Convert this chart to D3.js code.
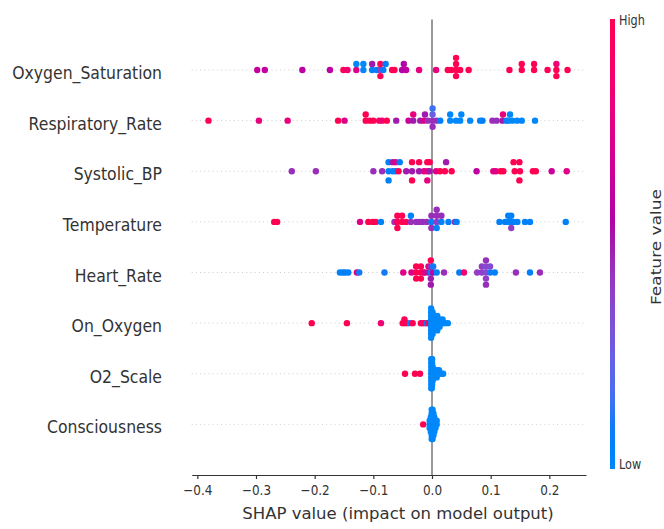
<!DOCTYPE html>
<html>
<head>
<meta charset="utf-8">
<script src="https://cdn.jsdelivr.net/npm/d3@7"></script>
<style>
  body { margin: 0; background: #fff; }
  text { font-family: 'DejaVu Sans', sans-serif; }
</style>
</head>
<body>
<svg id="chart" width="664" height="529"></svg>
<script>
// feature order, top to bottom
const featureNames = ['Oxygen_Saturation', 'Respiratory_Rate', 'Systolic_BP', 'Temperature',
  'Heart_Rate', 'On_Oxygen', 'O2_Scale', 'Consciousness']

// SHAP values and normalised feature values (0 = low, 1 = high) per feature
const oxygenSaturationShap = [-0.298, -0.285, -0.221, -0.174, -0.151, -0.144, -0.129, -0.129, -0.117, -0.117,
  -0.102, -0.102, -0.094, -0.088, -0.088, -0.088, -0.083, -0.079, -0.068, -0.064, -0.051, -0.048, -0.044,
  -0.022, 0.007, 0.027, 0.033, 0.041, 0.041, 0.041, 0.041, 0.048, 0.0625, 0.132, 0.153, 0.153, 0.174, 0.174,
  0.197, 0.212, 0.212, 0.212, 0.231]
const oxygenSaturationLevel = [0.62, 0.62, 0.6, 0.6, 1, 0.85, 0.75, 0, 0, 0,
  0.05, 0.5, 0.05, 0.4, 1, 1, 0.05, 0.05, 1, 1, 0.55, 0.55, 0.6,
  0.8, 0.8, 1, 1, 1, 1, 1, 1, 1, 1, 1, 1, 1, 1, 1,
  1, 1, 0.85, 1, 1]

const respiratoryRateShap = [-0.381, -0.295, -0.246, -0.160, -0.149, -0.113, -0.113, -0.106, -0.100, -0.090,
  -0.085, -0.077, -0.061, -0.040, -0.032, -0.032, -0.020, -0.014, -0.012, -0.007, 0.001, 0.001, 0.001, 0.001,
  0.008, 0.014, 0.031, 0.031, 0.041, 0.048, 0.050, 0.065, 0.082, 0.086, 0.103, 0.110, 0.120, 0.121, 0.127,
  0.130, 0.133, 0.137, 0.145, 0.153, 0.1756]
const respiratoryRateLevel = [1, 0.8, 0.8, 1, 0.75, 1, 1, 1, 1, 0.95,
  0.85, 1, 0.5, 0.65, 0.5, 0.8, 0.5, 0.75, 0.5, 0.45, 0.45, 0.25, 0.45, 0.15,
  0.45, 0.05, 0, 0, 0, 0, 0, 0, 0.05, 0.05, 0.45, 0.45, 0.5, 0.8, 0.1,
  0, 0, 0, 0, 0, 0]

const systolicBpShap = [-0.239, -0.198, -0.100, -0.085, -0.074, -0.074, -0.074, -0.067, -0.067, -0.062,
  -0.062, -0.057, -0.055, -0.044, -0.034, -0.034, -0.034, -0.022, -0.022, -0.0136, -0.008, -0.008, -0.008,
  -0.004, -0.004, 0.007, 0.0136, 0.022, 0.024, 0.0335, 0.076, 0.1045, 0.109, 0.117, 0.1216, 0.141, 0.139,
  0.150, 0.149, 0.149, 0.172, 0.177, 0.204, 0.2296]
const systolicBpLevel = [0.45, 0.45, 0.45, 0.45, 0.05, 0.05, 0.05, 0.05, 0.5, 0.05,
  0.75, 1, 0.05, 0.5, 0.5, 1, 1, 0.5, 1, 0.75, 0.8, 1, 0.8,
  0.5, 1, 0.75, 1, 1, 0.5, 1, 0.6, 0.75, 0.75, 1, 1, 1, 1,
  1, 1, 1, 1, 1, 0.65, 0.75]

const temperatureShap = [-0.269, -0.264, -0.1227, -0.1085, -0.101, -0.096, -0.087, -0.064, -0.059, -0.059,
  -0.059, -0.051, -0.051, -0.044, -0.036, -0.036, -0.027, -0.0216, -0.016, -0.009, -0.001, -0.001, -0.001,
  0.008, 0.008, 0.008, 0.008, 0.016, 0.016, 0.028, 0.039, 0.042, 0.115, 0.1245, 0.130, 0.130, 0.135, 0.135,
  0.135, 0.139, 0.1455, 0.1585, 0.167, 0.228]
const temperatureLevel = [1, 1, 0.75, 1, 1, 1, 0.05, 0.45, 1, 1,
  1, 1, 1, 1, 0.45, 0.05, 0.45, 0.45, 0.45, 0.45, 0.05, 0.45, 0.45,
  0.4, 0.45, 0.05, 0.45, 0.05, 0.45, 0.05, 0.45, 0.05, 0.05, 0.05, 0.05, 0.05, 0.05, 0.05,
  0.4, 0.05, 0.05, 0.05, 0.05, 0.05]

const heartRateShap = [-0.157, -0.152, -0.148, -0.1427, -0.128, -0.124, -0.081, -0.049, -0.035, -0.027,
  -0.027, -0.027, -0.019, -0.019, -0.019, -0.015, -0.012, -0.006, -0.006, -0.002, -0.002, -0.002, -0.002,
  -0.002, 0.002, 0.002, 0.008, 0.0205, 0.0466, 0.0545, 0.077, 0.085, 0.085, 0.092, 0.092, 0.092, 0.092,
  0.092, 0.099, 0.099, 0.107, 0.143, 0.167, 0.184]
const heartRateLevel = [0.05, 0.05, 0.05, 0.05, 0.75, 0.1, 0.1, 0.75, 0.75, 1,
  1, 1, 1, 1, 1, 1, 0.75, 0.5, 0.75, 0.1, 0.45, 0.5, 1,
  0.5, 0.6, 0.1, 0.05, 0.45, 0.05, 0.85, 0.4, 0.4, 0.4, 0.35, 0.35, 0.4, 0.45,
  0.45, 0.1, 0.35, 0.05, 0.45, 0.05, 0.45]

const onOxygenShap = [-0.205, -0.145, -0.087, -0.050, -0.047, -0.047, -0.043, -0.0375, -0.033, -0.019,
  -0.016, -0.012, -0.009, -0.006,
  -0.0015, -0.0015, -0.0015, -0.0015, -0.0015, -0.0015, -0.0015, -0.0015, -0.0015,
  0.001, 0.001, 0.001, 0.001, 0.001, 0.001, 0.001,
  0.0035, 0.0035, 0.0035, 0.0035,
  0.009, 0.009, 0.009, 0.009, 0.009,
  0.013, 0.013, 0.013, 0.018, 0.018, 0.022, 0.027]
const onOxygenLevel = [1, 1, 0.85, 1, 1, 1, 1, 0.1, 1, 1,
  0.85, 1, 0.1, 1,
  0, 0, 0, 0, 0, 0, 0, 0, 0,
  0, 0, 0, 0, 0, 0, 0,
  0, 0, 0, 0,
  0, 0, 0, 0, 0,
  0, 0, 0, 0, 0, 0, 0]

const o2ScaleShap = [-0.046, -0.029, -0.0205,
  -0.0012, -0.0012, -0.0012, -0.0012, -0.0012, -0.0012, -0.0012, -0.0012, -0.0012,
  -0.0004, -0.0004, -0.0004, -0.0004, -0.0004, -0.0004, -0.0004, -0.0004, -0.0004,
  0.0002, 0.0002, 0.0002, 0.0002, 0.0002, 0.0002, 0.0002, 0.0002,
  0.001, 0.001, 0.001, 0.001, 0.001,
  0.004, 0.004, 0.004, 0.008, 0.008, 0.008, 0.012, 0.012, 0.016, 0.019]
const o2ScaleLevel = [1, 1, 1,
  0, 0, 0, 0, 0, 0, 0, 0, 0,
  0, 0, 0, 0, 0, 0, 0, 0, 0,
  0, 0, 0, 0, 0, 0, 0, 0,
  0, 0, 0, 0, 0,
  0, 0, 0, 0, 0, 0, 0, 0, 0, 0]

const consciousnessShap = [-0.015,
  -0.004, -0.004, -0.004,
  -0.002, -0.002, -0.002, -0.002, -0.002,
  -0.0005, -0.0005, -0.0005, -0.0005, -0.0005, -0.0005, -0.0005, -0.0005, -0.0005,
  0.001, 0.001, 0.001, 0.001, 0.001, 0.001, 0.001, 0.001, 0.001,
  0.0025, 0.0025, 0.0025, 0.0025, 0.0025, 0.0025, 0.0025,
  0.004, 0.004, 0.004, 0.004, 0.004,
  0.006, 0.006, 0.006, 0.008, 0.008]
const consciousnessLevel = [1,
  0, 0, 0,
  0, 0, 0, 0, 0,
  0, 0, 0, 0, 0, 0, 0, 0, 0,
  0, 0, 0, 0, 0, 0, 0, 0, 0,
  0, 0, 0, 0, 0, 0, 0,
  0, 0, 0, 0, 0,
  0, 0, 0, 0, 0]

const tickValues = [-0.4, -0.3, -0.2, -0.1, 0.0, 0.1, 0.2]

const rows = [
  [oxygenSaturationShap, oxygenSaturationLevel],
  [respiratoryRateShap, respiratoryRateLevel],
  [systolicBpShap, systolicBpLevel],
  [temperatureShap, temperatureLevel],
  [heartRateShap, heartRateLevel],
  [onOxygenShap, onOxygenLevel],
  [o2ScaleShap, o2ScaleLevel],
  [consciousnessShap, consciousnessLevel]
]

const svg = d3.select('#chart')
const x = d3.scaleLinear().domain([-0.4096, 0.2625]).range([191.7, 586])
const y = d3.scaleLinear().domain([-1, featureNames.length]).range([475, 19.4])
const axisColor = '#333333'

// shap's red_blue map: hue/chroma go blue -> red in lch, lightness dips to 40 in the middle
function color (t) {
  const l = t < 0.5 ? 54 - 28 * t : 40 + 28 * (t - 0.5)
  const c = 70 + 20 * t
  const h = 266.9 + 113.4 * t
  return d3.hcl(h % 360, c, l).formatHex()
}

// same stacking as shap's beeswarm: quantise into bins, pile up alternately
function swarm (vals) {
  const nbins = 100
  const lo = d3.min(vals)
  const hi = d3.max(vals)
  const quant = vals.map(v => Math.round(nbins * (v - lo) / (hi - lo + 1e-8)))
  const inds = d3.range(vals.length).sort((a, b) => quant[a] - quant[b] || a - b)
  const ys = vals.map(() => 0)
  let layer = 0
  let last = -1
  for (const i of inds) {
    if (quant[i] !== last) layer = 0
    ys[i] = Math.ceil(layer / 2) * ((layer % 2) * 2 - 1)
    layer++
    last = quant[i]
  }
  const m = d3.max(ys) + 1
  return ys.map(v => v * 0.9 * (0.4 / m))
}

// dotted row guides
svg.append('g')
  .selectAll('line')
  .data(featureNames)
  .enter()
  .append('line')
  .attr('x1', x.range()[0])
  .attr('x2', x.range()[1])
  .attr('y1', (d, i) => y(featureNames.length - 1 - i))
  .attr('y2', (d, i) => y(featureNames.length - 1 - i))
  .attr('stroke', '#cccccc')
  .attr('stroke-width', 1)
  .attr('stroke-dasharray', '1,3.2')

// zero line
svg.append('line')
  .attr('x1', x(0)).attr('x2', x(0))
  .attr('y1', y.range()[1]).attr('y2', y.range()[0])
  .attr('stroke', '#999999')
  .attr('stroke-width', 2)

// dots
const dots = svg.append('g')
rows.forEach(([shap, level], i) => {
  const pos = featureNames.length - 1 - i
  const offs = swarm(shap)
  dots.append('g')
    .selectAll('circle')
    .data(shap)
    .enter()
    .append('circle')
    .attr('cx', d => x(d))
    .attr('cy', (d, j) => y(pos + offs[j]))
    .attr('r', 3.2)
    .attr('fill', (d, j) => color(level[j]))
})

// feature labels
svg.append('g')
  .selectAll('text')
  .data(featureNames)
  .enter()
  .append('text')
  .attr('transform', (d, i) => `translate(162,${y(featureNames.length - 1 - i) + 9}) scale(0.87,1)`)
  .attr('text-anchor', 'end')
  .attr('font-size', 18)
  .attr('fill', axisColor)
  .text(d => d)

// x axis
const xAxis = svg.append('g')
  .attr('transform', `translate(0,${y(-1)})`)
  .call(d3.axisBottom(x).tickValues(tickValues).tickFormat(d3.format('.1f')).tickSize(4).tickSizeOuter(0))
xAxis.select('.domain').attr('stroke', axisColor).attr('stroke-width', 1.2)
xAxis.selectAll('.tick line').attr('stroke', axisColor).attr('stroke-width', 1.2)
xAxis.selectAll('.tick text')
  .attr('y', 20)
  .attr('dy', 0)
  .attr('font-size', 14)
  .attr('font-family', 'DejaVu Sans')
  .attr('fill', axisColor)
  .attr('transform', 'scale(0.86,1)')

svg.append('text')
  .attr('transform', 'translate(398,519)')
  .attr('text-anchor', 'middle')
  .attr('font-size', 16.5)
  .attr('fill', axisColor)
  .text('SHAP value (impact on model output)')

// colour bar
const defs = svg.append('defs')
const grad = defs.append('linearGradient')
  .attr('id', 'cbar')
  .attr('x1', 0).attr('y1', 1).attr('x2', 0).attr('y2', 0)
grad.selectAll('stop')
  .data(d3.range(0, 1.0001, 0.05))
  .enter()
  .append('stop')
  .attr('offset', d => d)
  .attr('stop-color', d => color(d))

svg.append('rect')
  .attr('x', 610).attr('y', 19)
  .attr('width', 5).attr('height', 450)
  .attr('fill', 'url(#cbar)')

svg.append('text')
  .attr('transform', 'translate(619,21) scale(0.84,1)')
  .attr('dominant-baseline', 'central')
  .attr('font-size', 13.4)
  .attr('fill', axisColor)
  .text('High')

svg.append('text')
  .attr('transform', 'translate(619,465) scale(0.84,1)')
  .attr('dominant-baseline', 'central')
  .attr('font-size', 13.4)
  .attr('fill', axisColor)
  .text('Low')

svg.append('text')
  .attr('transform', 'translate(656,247) scale(0.85,1) rotate(-90)')
  .attr('text-anchor', 'middle')
  .attr('dominant-baseline', 'central')
  .attr('font-size', 17)
  .attr('fill', axisColor)
  .text('Feature value')
</script>
</body>
</html>
